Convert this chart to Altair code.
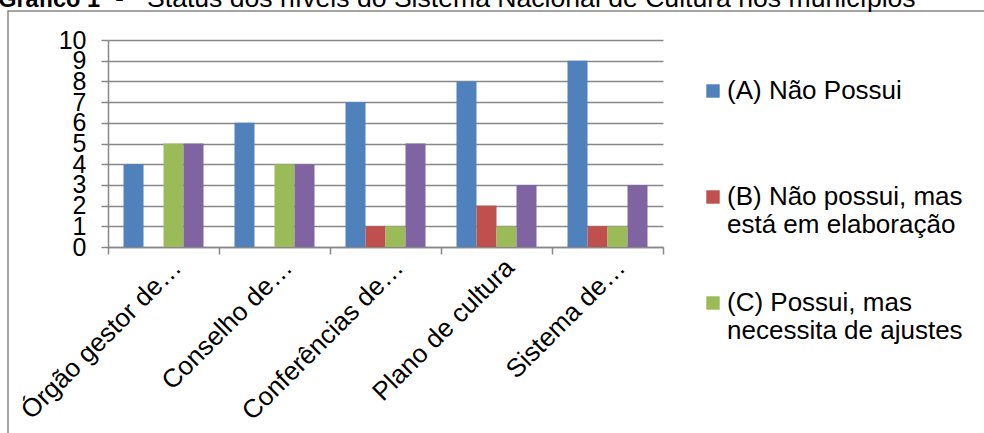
import altair as alt
import pandas as pd

# Categories and series of the bar chart
categories = ["Órgão gestor de…", "Conselho de…", "Conferências de…", "Plano de cultura", "Sistema de…"]
series = [
    "(A) Não Possui",
    "(B) Não possui, mas está em elaboração",
    "(C) Possui, mas necessita de ajustes",
    "(D) Possui",
]
colors = ["#4F81BD", "#C0504D", "#9BBB59", "#8064A2"]

values_a = [4, 6, 7, 8, 9]
values_b = [0, 0, 1, 2, 1]
values_c = [5, 4, 1, 1, 1]
values_d = [5, 4, 5, 3, 3]

y_ticks = list(range(0, 11))

title_bold = "Gráfico 1"
title_dash = "-"
title_rest = "Status dos níveis do Sistema Nacional de Cultura nos municípios"

FONT = "Liberation Sans"
GRID = "#888888"

rows = []
for name, vals in zip(series, [values_a, values_b, values_c, values_d]):
    for cat, v in zip(categories, vals):
        rows.append({"nivel": cat, "status": name, "valor": v})
df = pd.DataFrame(rows)

bars = alt.Chart(df).mark_bar().encode(
    x=alt.X(
        "nivel:N",
        sort=categories,
        scale=alt.Scale(paddingInner=0, paddingOuter=0),
        axis=alt.Axis(
            title=None,
            labelAngle=-45,
            labelAlign="right",
            labelBaseline="top",
            labelFontSize=26,
            labelPadding=0,
            labelOffset=4,
            labelLimit=0,
            labelOverlap=False,
            tickBand="extent",
            tickSize=7,
        ),
    ),
    # four bars per category, with the gaps between groups as outer padding
    xOffset=alt.XOffset(
        "status:N", sort=series, scale=alt.Scale(paddingInner=0, paddingOuter=0.775)
    ),
    y=alt.Y(
        "valor:Q",
        scale=alt.Scale(domain=[0, 10], nice=False),
        axis=alt.Axis(
            title=None,
            values=y_ticks,
            labelFontSize=25,
            labelPadding=15,
            labelOverlap=False,
            labelFlush=False,
            tickSize=7,
            grid=True,
        ),
    ),
    color=alt.Color(
        "status:N",
        scale=alt.Scale(domain=series, range=colors),
        legend=alt.Legend(
            values=series[:3],
            orient="none",
            legendX=592,
            legendY=38,
            title=None,
            symbolType="square",
            symbolSize=180,
            symbolStrokeWidth=0,
            labelFontSize=26,
            labelFont=FONT,
            labelColor="black",
            labelLimit=0,
            labelOffset=1,
            labelExpr="split(replace(datum.label, 'mas ', 'mas|'), '|')",
            gridAlign="all",
            rowPadding=52,
            padding=0,
        ),
    ),
)

one = alt.Data(values=[{}])

frame = alt.Chart(one).mark_rect(fillOpacity=0, stroke=GRID, strokeWidth=1.5).encode(
    x=alt.value(-100), x2=alt.value(1000), y=alt.value(-29), y2=alt.value(1000)
)

title_a = alt.Chart(one).mark_text(
    text=title_bold, font=FONT, fontSize=23.5, fontWeight="bold",
    align="right", baseline="alphabetic", color="black",
).encode(x=alt.value(-8), y=alt.value(-33))

title_b = alt.Chart(one).mark_text(
    text=title_dash, font=FONT, fontSize=27,
    align="left", baseline="alphabetic", color="black",
).encode(x=alt.value(7), y=alt.value(-33))

title_c = alt.Chart(one).mark_text(
    text=title_rest, font=FONT, fontSize=26.6,
    align="left", baseline="alphabetic", color="black",
).encode(x=alt.value(39), y=alt.value(-33))

chart = alt.layer(frame, bars, title_a, title_b, title_c).properties(
    width=555,
    height=207,
    padding={"left": 108, "top": 40, "right": 321, "bottom": 186},
    autosize=alt.AutoSizeParams(type="none"),
).configure_view(stroke=None).configure_axis(
    labelFont=FONT,
    labelColor="black",
    domainColor=GRID,
    domainWidth=1.5,
    tickColor=GRID,
    tickWidth=1.5,
    gridColor=GRID,
    gridWidth=1.5,
)

chart.save("out.html", embed_options={"renderer": "svg", "actions": False})
